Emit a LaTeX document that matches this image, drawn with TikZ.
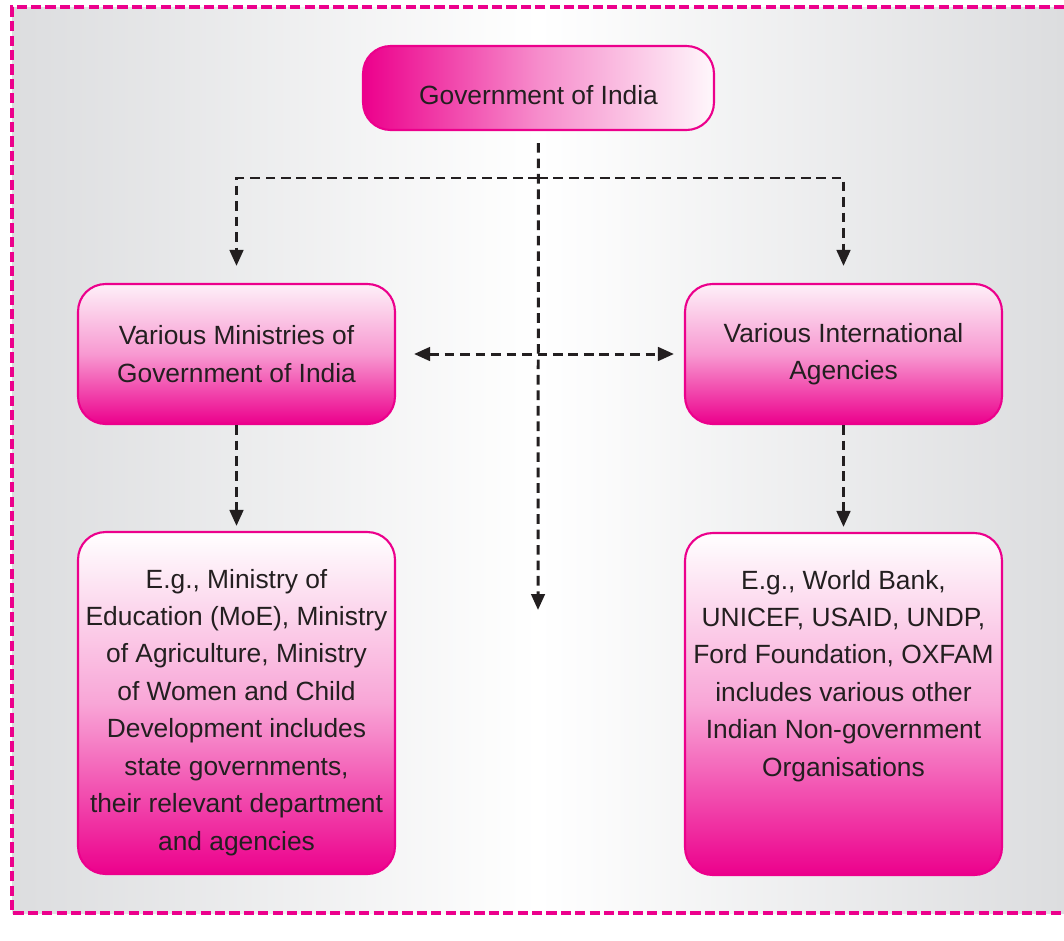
\documentclass[tikz,border=0pt]{standalone}
\usepackage{fontspec}
\setmainfont{Liberation Sans}
\usetikzlibrary{arrows.meta}
\definecolor{ncmagenta}{HTML}{EC008C}
\definecolor{ncgray}{HTML}{DCDDDF}
\definecolor{nctext}{HTML}{231F20}
\tikzset{
  box/.style={draw=ncmagenta, line width=1.2pt, rounded corners=0.55cm,
    text=nctext, font=\fontsize{15}{21.3}\selectfont, align=center, inner sep=0pt},
  topbox/.style={box, minimum width=7.02cm, minimum height=1.68cm, text height=0.68cm,
    left color=ncmagenta, right color=ncmagenta!3, middle color=ncmagenta!45},
  midbox/.style={box, minimum width=6.34cm, minimum height=2.8cm,
    top color=ncmagenta!6, bottom color=ncmagenta, middle color=ncmagenta!40},
  lowbox/.style={box, top color=white, bottom color=ncmagenta, middle color=ncmagenta!35},
  flow/.style={draw=nctext, line width=1.7pt, dash pattern=on 5.5pt off 3.3pt,
    -{Triangle[length=0.32cm,width=0.27cm]}},
}
\newcommand{\lowtext}[1]{\parbox[c][6.84cm][t]{6.34cm}{\centering\vspace*{0.74cm}#1\par}}
\begin{document}
\begin{tikzpicture}[x=0.02cm, y=-0.02cm]
  \useasboundingbox (0,0) rectangle (1064,940);
  \shade[left color=ncgray, right color=ncgray, middle color=white] (12,7) rectangle (1064,913);
  \draw[ncmagenta, line width=2pt, dash pattern=on 5.8pt off 2.4pt]
    (1064,7) -- (12,7) -- (12,913) -- (1064,913);

  \node[topbox] (gov) at (538.5,88) {Government of India};
  \node[midbox] (min) at (236.5,354) {Various Ministries of\\Government of India};
  \node[midbox] (agc) at (843.5,354) {Various International\\Agencies};
  \node[lowbox] (moe) at (236.5,703) {\lowtext{E.g., Ministry of\\
    Education (MoE), Ministry\\of Agriculture, Ministry\\of Women and Child\\
    Development includes\\state governments,\\their relevant department\\and agencies}};
  \node[lowbox] (wb) at (843.5,704) {\lowtext{E.g., World Bank,\\
    UNICEF, USAID, UNDP,\\Ford Foundation, OXFAM\\includes various other\\
    Indian Non-government\\Organisations}};
  \coordinate (split) at (538,178);
  \coordinate (open) at (538,610);

  \begin{scope}[flow]
    \draw[shorten <=0.24cm] (gov) to (open);
    \draw[shorten >=0.34cm] (split) -| (min);
    \draw[shorten >=0.34cm] (split) -| (agc);
    \draw[{Triangle[length=0.32cm,width=0.27cm]}-{Triangle[length=0.32cm,width=0.27cm]},
      shorten <=0.36cm, shorten >=0.2cm] (min) to (agc);
    \draw[shorten >=0.1cm] (min) to (moe);
    \draw[shorten >=0.1cm] (agc) to (wb);
  \end{scope}
\end{tikzpicture}
\end{document}
